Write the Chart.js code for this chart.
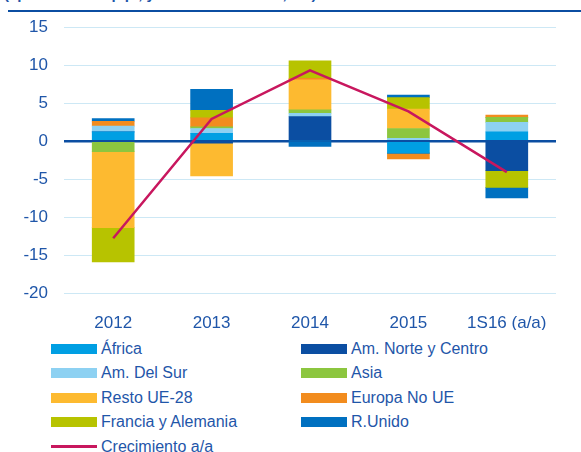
<!DOCTYPE html>
<html>
<head>
<meta charset="utf-8">
<script src="https://cdn.jsdelivr.net/npm/chart.js@4.4.0/dist/chart.umd.min.js"></script>
<style>
  html, body { margin: 0; padding: 0; background: #fff; }
  body { width: 581px; height: 452px; position: relative; overflow: hidden; font-family: "Liberation Sans", Arial, sans-serif; }
  #titulo { position: absolute; left: 4px; top: -15px; font-size: 15px; font-weight: bold; color: #1F56A9; white-space: nowrap; }
  #linea { position: absolute; left: 8px; right: 0; top: 10px; height: 2px; background: #0B4EA2; }
  #wrap { position: absolute; left: 0; top: 0; width: 581px; height: 330px; }
  #leyenda { position: absolute; left: 51px; top: 339px; display: grid; grid-template-columns: 250px 250px; row-gap: 4.4px; }
  .item { display: flex; align-items: center; height: 20px; font-size: 16px; line-height: 20px; color: #1F56A9; }
  .sw { width: 46px; height: 10px; margin-right: 4px; }
  .sw.ln { height: 3px; }
</style>
</head>
<body>
<div id="titulo">(aportación en p.p., y crecimiento en %, a/a)</div>
<div id="linea"></div>
<div id="wrap"><canvas id="grafico"></canvas></div>
<div id="leyenda"></div>
<script>
document.addEventListener("DOMContentLoaded", function() {
  // Categorías y series (aportaciones en p.p.)
  const categorias = ['2012', '2013', '2014', '2015', '1S16 (a/a)'];
  const africa = [1.2, 1.0, 0, -1.6, 1.2];
  const amNorte = [0, -0.3, 3.2, 0, -3.9];
  const amSur = [0.75, 0.65, 0.45, 0.35, 1.25];
  const asia = [-1.4, 0.2, 0.45, 1.3, 0.65];
  const restoUE = [-10.0, -4.3, 3.95, 2.55, 0];
  const europaNoUE = [0.65, 1.2, 0.2, -0.75, 0.3];
  const franciaAlemania = [-4.5, 1.0, 2.3, 1.5, -2.2];
  const rUnido = [0.35, 2.75, -0.7, 0.35, -1.4];
  const crecimiento = [-12.8, 2.9, 9.3, 3.9, -4.1];
  const ticksY = [15, 10, 5, 0, -5, -10, -15, -20];

  const azulTexto = '#1F56A9';

  function barra(label, data, color) {
    return { type: 'bar', label: label, data: data, backgroundColor: color, borderWidth: 0, order: 1, stack: 'regiones' };
  }

  const datasets = [
    barra('África', africa, '#009FE3'),
    barra('Am. Norte y Centro', amNorte, '#0B4EA2'),
    barra('Am. Del Sur', amSur, '#8DD1F2'),
    barra('Asia', asia, '#8CC63F'),
    barra('Resto UE-28', restoUE, '#FDBA30'),
    barra('Europa No UE', europaNoUE, '#F28C1E'),
    barra('Francia y Alemania', franciaAlemania, '#B7C300'),
    barra('R.Unido', rUnido, '#0070C0'),
    {
      type: 'line', label: 'Crecimiento a/a', data: crecimiento,
      borderColor: '#C8175E', backgroundColor: '#C8175E', borderWidth: 2.5,
      pointRadius: 0, tension: 0, order: 0, stack: 'crecimiento'
    }
  ];

  const ctx = document.getElementById('grafico').getContext('2d');
  const chart = new Chart(ctx, {
    data: { labels: categorias, datasets: datasets },
    options: {
      responsive: true,
      maintainAspectRatio: false,
      animation: false,
      layout: { padding: { top: 27, right: 25, bottom: 0, left: 0 } },
      plugins: { legend: { display: false }, tooltip: { enabled: false } },
      datasets: { bar: { barThickness: 42 } },
      scales: {
        x: {
          stacked: true,
          grid: { display: false },
          border: { display: false },
          ticks: { color: azulTexto, font: { family: 'Liberation Sans', size: 17 }, padding: 12, maxRotation: 0 },
          afterFit: function(scale) { scale.height = 37; }
        },
        y: {
          stacked: true,
          min: -20, max: 15,
          afterBuildTicks: function(scale) { scale.ticks = ticksY.map(v => ({ value: v })); },
          afterFit: function(scale) { scale.width = 64; },
          border: { display: false },
          grid: {
            drawTicks: false,
            color: c => c.tick && c.tick.value === 0 ? '#0B4EA2' : '#CDE8F5',
            lineWidth: c => c.tick && c.tick.value === 0 ? 2.5 : 1
          },
          ticks: { color: azulTexto, font: { family: 'Liberation Sans', size: 17 }, padding: 16 }
        }
      }
    }
  });

  // Leyenda en dos columnas
  const leyenda = document.getElementById('leyenda');
  chart.data.datasets.forEach(function(ds) {
    const item = document.createElement('div');
    item.className = 'item';
    const sw = document.createElement('span');
    sw.className = ds.type === 'line' ? 'sw ln' : 'sw';
    sw.style.background = ds.type === 'line' ? ds.borderColor : ds.backgroundColor;
    const txt = document.createElement('span');
    txt.textContent = ds.label;
    item.appendChild(sw);
    item.appendChild(txt);
    leyenda.appendChild(item);
  });
});
</script>
</body>
</html>
